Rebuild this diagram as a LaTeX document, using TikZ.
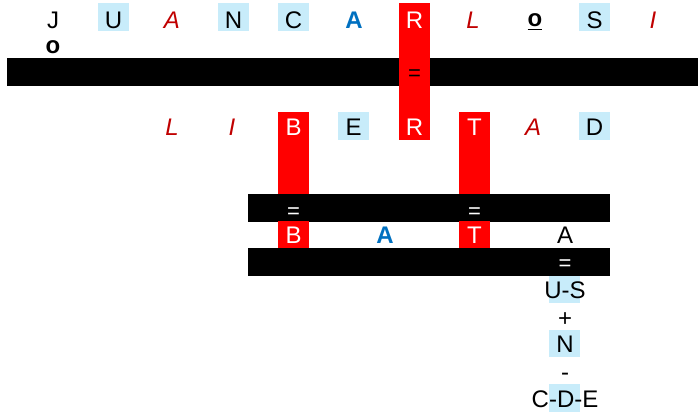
\documentclass[tikz,border=0pt]{standalone}
\usepackage{fontspec}
\setmainfont{Liberation Sans}
\definecolor{lb}{RGB}{200,236,250}
\definecolor{dred}{RGB}{192,0,0}
\definecolor{blu}{RGB}{0,112,192}
\begin{document}
\begin{tikzpicture}[x=1pt,y=-1pt,
 every node/.style={inner sep=0pt, outer sep=0pt},
 lt/.style={anchor=base, font=\fontsize{24}{28}\selectfont},
 rit/.style={anchor=base, text=dred, font=\fontsize{24}{28}\selectfont\itshape},
 bbold/.style={anchor=base, text=blu, font=\fontsize{24}{28}\selectfont\bfseries},
 blk/.style={anchor=base, font=\fontsize{24}{28}\selectfont\bfseries},
 wlt/.style={lt, text=white},
 hbox/.style={fill=lb, minimum width=31pt, minimum height=28pt},
 rbox/.style={fill=red, minimum width=31pt, minimum height=27pt},
 bar/.style={fill=black, minimum height=28pt},
 eq/.style={anchor=base, font=\fontsize{22}{26}\selectfont}
]
\useasboundingbox (0,0) rectangle (698,415);
% bars and columns
\node[bar, minimum width=691pt] (bar1) at (352.5,72) {};
\node[fill=red, minimum width=31pt, minimum height=137pt] (colR) at (414.5,71.5) {};
\node[fill=red, minimum width=31pt, minimum height=82pt] (colB) at (293.5,153) {};
\node[fill=red, minimum width=31pt, minimum height=82pt] (colT) at (474.5,153) {};
\node[bar, minimum width=362pt] (bar2) at (429,208) {};
\node[bar, minimum width=362pt] (bar3) at (429,262) {};
% row 1 boxes
\node[hbox] (bU) at (113.5,17) {};
\node[hbox] (bN) at (233.5,17) {};
\node[hbox] (bC) at (293.5,17) {};
\node[hbox] (bS) at (594.5,17) {};
% row 1 letters
\node[lt] (t1) at (53,28) {J};
\node[lt] (t2) at (113.5,28) {U};
\node[rit] (t3) at (172,28) {A};
\node[lt] (t4) at (233.5,28) {N};
\node[lt] (t5) at (293.5,28) {C};
\node[bbold] (t6) at (354,28) {A};
\node[wlt] (t7) at (414.5,28) {R};
\node[rit] (t8) at (473,28) {L};
\node[blk] (t9) at (535,27) {o};
\draw[line width=1.4pt] ([yshift=-2pt]t9.south west) -- ([yshift=-2pt]t9.south east);
\node[lt] (t10) at (594.5,28) {S};
\node[rit] (t11) at (653,28) {I};
\node[blk] (jo) at (53,53) {o};
\node[eq] (e1) at (414.5,80) {=};
% row 2
\node[hbox] (bE) at (353.5,126) {};
\node[hbox] (bD) at (594.5,126) {};
\node[rit] (r1) at (172,135) {L};
\node[rit] (r2) at (232,135) {I};
\node[wlt] (r3) at (293.5,135) {B};
\node[lt] (r4) at (353.5,135) {E};
\node[wlt] (r5) at (414.5,135) {R};
\node[wlt] (r6) at (474.5,135) {T};
\node[rit] (r7) at (533,135) {A};
\node[lt] (r8) at (594.5,135) {D};
% bar 2 signs
\node[eq, text=white] (e2) at (293.5,218) {=};
\node[eq, text=white] (e3) at (474.5,218) {=};
% row 3
\node[rbox] (bB3) at (293.5,234.5) {};
\node[rbox] (bT3) at (474.5,234.5) {};
\node[wlt] (s1) at (293.5,243) {B};
\node[bbold] (s2) at (385,243) {A};
\node[wlt] (s3) at (474.5,243) {T};
\node[lt] (s4) at (565,243) {A};
\node[eq, text=white] (e4) at (565,270.5) {=};
% column below
\node[hbox, minimum height=27pt] (bUS) at (564.5,289.5) {};
\node[lt] (us) at (565,298) {U-S};
\node[lt] (plus) at (565,326) {+};
\node[hbox, minimum height=27pt] (bNN) at (564.5,343.5) {};
\node[lt] (nn) at (565,352) {N};
\node[lt] (minus) at (565,380.5) {-};
\node[hbox] (bDD) at (564.5,398) {};
\node[lt] (cde) at (565,407) {C-D-E};
\end{tikzpicture}
\end{document}
